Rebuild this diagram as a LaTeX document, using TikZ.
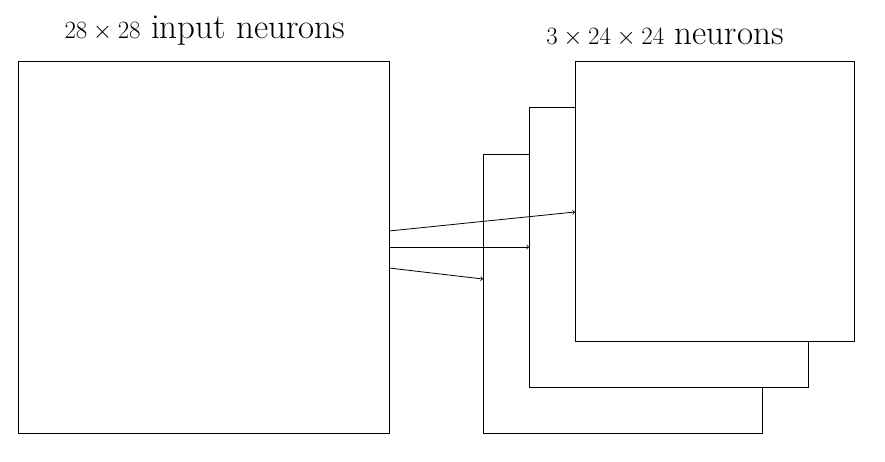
\documentclass[tikz,border=0pt]{standalone}
\begin{document}
\begin{tikzpicture}[x=1pt,y=-1pt,
  sq/.style={draw,fill=white,line width=1pt},
  ar/.style={->,line width=0.8pt},
  lbl/.style={font=\fontsize{35}{40}\selectfont,inner sep=0pt}]
\useasboundingbox (0,0) rectangle (885,461);
\draw[sq] (18,61) rectangle (389,433);
\draw[sq] (483,154) rectangle (762,433);
\draw[sq] (529,107) rectangle (808,387);
\draw[sq] (575,61) rectangle (854,341);
\coordinate (a1) at (389,231); \coordinate (b1) at (575,212);
\coordinate (a2) at (389,247); \coordinate (b2) at (529,247);
\coordinate (a3) at (389,268); \coordinate (b3) at (483,279);
\draw[ar] (a1) -- (b1);
\draw[ar] (a2) -- (b2);
\draw[ar] (a3) -- (b3);
\node[lbl] (t1) at (205,31) {$28\times 28$ input neurons};
\node[lbl] (t2) at (665,38) {$3\times 24\times 24$ neurons};
\end{tikzpicture}
\end{document}
